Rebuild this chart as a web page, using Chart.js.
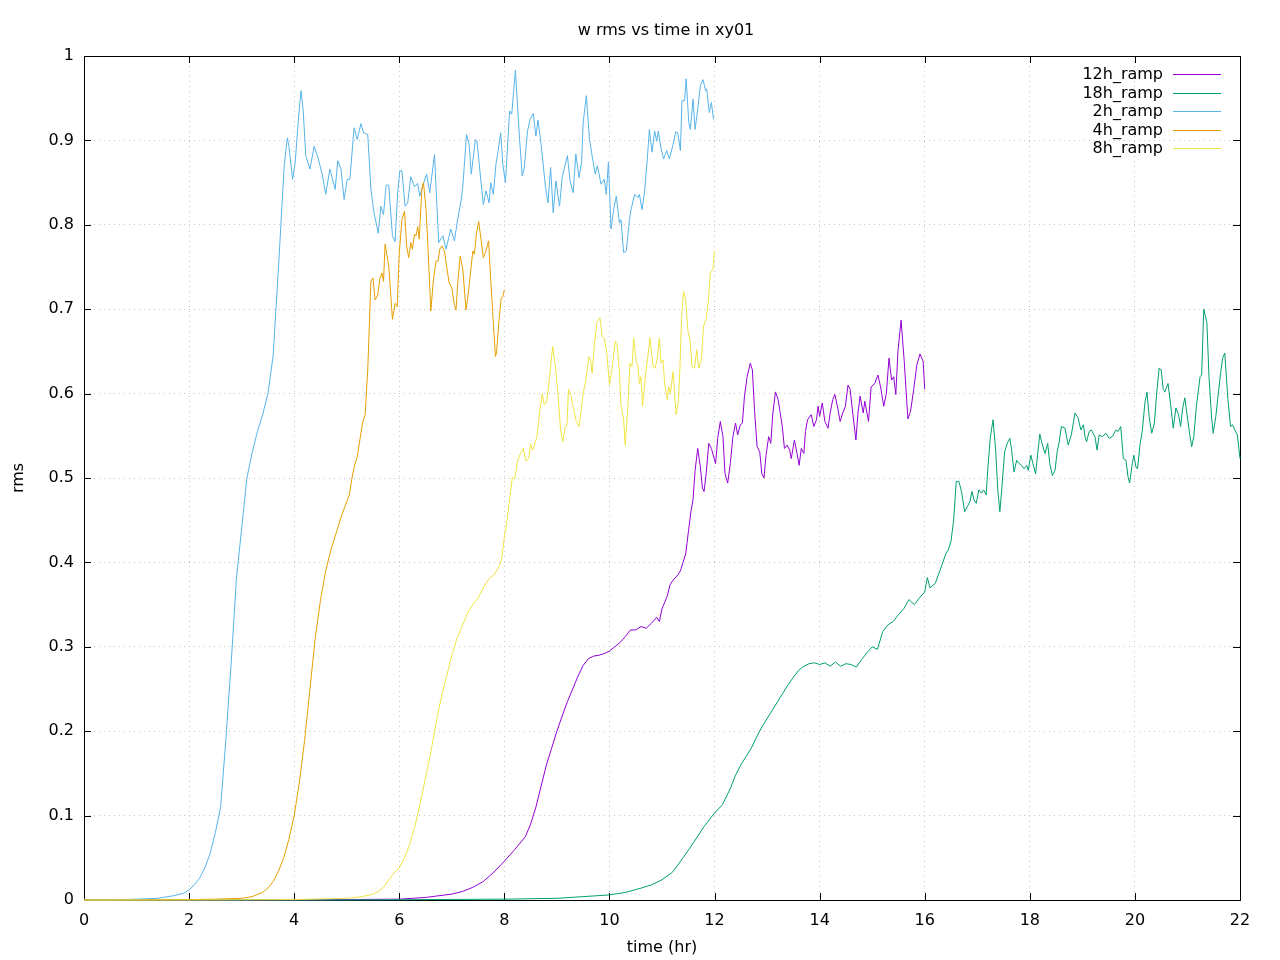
<!DOCTYPE html>
<html>
<head>
<meta charset="utf-8">
<title>w rms vs time in xy01</title>
<script src="https://cdn.jsdelivr.net/npm/chart.js@4/dist/chart.umd.min.js"></script>
<style>
  body { margin: 0; background: #fff; }
  canvas { display: block; }
</style>
</head>
<body>
<canvas id="myChart" width="1280" height="960"></canvas>
<script>
// tick labels
const xTicks = [0, 2, 4, 6, 8, 10, 12, 14, 16, 18, 20, 22];
const xTickLabels = ["0", "2", "4", "6", "8", "10", "12", "14", "16", "18", "20", "22"];
const yTicks = [0, 0.1, 0.2, 0.3, 0.4, 0.5, 0.6, 0.7, 0.8, 0.9, 1];
const yTickLabels = ["0", "0.1", "0.2", "0.3", "0.4", "0.5", "0.6", "0.7", "0.8", "0.9", "1"];

const seriesNames = ["12h_ramp", "18h_ramp", "2h_ramp", "4h_ramp", "8h_ramp"];
const seriesColors = ["#9400d3", "#009e73", "#56b4e9", "#e69f00", "#f0e442"];

// 12h_ramp
const t12h = [0, 4, 6, 6.5, 7.0, 7.2, 7.4, 7.6, 7.8, 8.0, 8.2, 8.4, 8.5, 8.6, 8.7, 8.8, 8.9, 9.0, 9.1, 9.2, 9.3, 9.4, 9.5, 9.6, 9.7, 9.8, 9.9, 10.0, 10.1, 10.2, 10.3, 10.4, 10.5, 10.6, 10.7, 10.8, 10.9, 10.95, 11.0, 11.1, 11.15, 11.2, 11.3, 11.35, 11.4, 11.45, 11.5, 11.55, 11.59, 11.63, 11.68, 11.73, 11.77, 11.8, 11.84, 11.89, 11.94, 12.02, 12.06, 12.11, 12.16, 12.2, 12.25, 12.3, 12.35, 12.4, 12.44, 12.49, 12.53, 12.57, 12.62, 12.68, 12.72, 12.76, 12.81, 12.86, 12.9, 12.94, 12.98, 13.03, 13.07, 13.11, 13.16, 13.21, 13.24, 13.29, 13.33, 13.38, 13.43, 13.46, 13.52, 13.57, 13.61, 13.65, 13.7, 13.73, 13.77, 13.84, 13.89, 13.94, 13.97, 14.0, 14.05, 14.1, 14.16, 14.2, 14.25, 14.29, 14.35, 14.39, 14.44, 14.49, 14.54, 14.58, 14.63, 14.69, 14.73, 14.77, 14.83, 14.86, 14.93, 14.98, 15.05, 15.11, 15.16, 15.22, 15.27, 15.32, 15.37, 15.41, 15.45, 15.49, 15.55, 15.61, 15.66, 15.68, 15.73, 15.79, 15.85, 15.91, 15.97, 16.0];
const v12h = [0, 0, 0.001, 0.003, 0.007, 0.01, 0.015, 0.022, 0.033, 0.046, 0.06, 0.075, 0.09, 0.11, 0.135, 0.16, 0.18, 0.2, 0.218, 0.235, 0.25, 0.265, 0.278, 0.286, 0.289, 0.29, 0.292, 0.295, 0.3, 0.305, 0.312, 0.32, 0.32, 0.324, 0.322, 0.328, 0.335, 0.33, 0.345, 0.36, 0.373, 0.378, 0.385, 0.39, 0.4, 0.41, 0.435, 0.46, 0.474, 0.509, 0.535, 0.513, 0.488, 0.484, 0.505, 0.541, 0.535, 0.517, 0.547, 0.567, 0.549, 0.505, 0.494, 0.517, 0.549, 0.565, 0.551, 0.563, 0.565, 0.597, 0.62, 0.636, 0.628, 0.581, 0.537, 0.531, 0.505, 0.5, 0.527, 0.549, 0.541, 0.577, 0.602, 0.593, 0.581, 0.561, 0.535, 0.539, 0.533, 0.523, 0.545, 0.529, 0.515, 0.535, 0.529, 0.555, 0.569, 0.575, 0.561, 0.569, 0.585, 0.573, 0.589, 0.567, 0.559, 0.577, 0.593, 0.599, 0.581, 0.567, 0.577, 0.585, 0.61, 0.605, 0.577, 0.545, 0.577, 0.597, 0.577, 0.591, 0.567, 0.608, 0.612, 0.622, 0.608, 0.585, 0.6, 0.642, 0.616, 0.62, 0.599, 0.65, 0.687, 0.638, 0.589, 0.57, 0.579, 0.605, 0.634, 0.647, 0.638, 0.605];

// 18h_ramp
const t18h = [0, 5, 8, 9, 9.5, 10.0, 10.3, 10.6, 10.8, 11.0, 11.2, 11.4, 11.6, 11.8, 12.0, 12.15, 12.3, 12.4, 12.5, 12.6, 12.7, 12.8, 12.9, 13.0, 13.1, 13.2, 13.3, 13.4, 13.5, 13.6, 13.7, 13.8, 13.9, 14.0, 14.1, 14.2, 14.3, 14.4, 14.5, 14.6, 14.7, 14.8, 14.9, 15.0, 15.1, 15.2, 15.3, 15.4, 15.5, 15.6, 15.7, 15.8, 15.9, 16.0, 16.05, 16.1, 16.2, 16.3, 16.4, 16.45, 16.5, 16.55, 16.6, 16.65, 16.7, 16.76, 16.81, 16.86, 16.9, 16.94, 16.98, 17.03, 17.08, 17.12, 17.17, 17.2, 17.25, 17.3, 17.35, 17.39, 17.43, 17.47, 17.52, 17.57, 17.62, 17.65, 17.7, 17.75, 17.8, 17.84, 17.89, 17.94, 17.97, 18.02, 18.06, 18.11, 18.15, 18.19, 18.24, 18.29, 18.34, 18.38, 18.43, 18.48, 18.52, 18.56, 18.6, 18.67, 18.73, 18.79, 18.86, 18.92, 18.97, 19.02, 19.05, 19.08, 19.13, 19.17, 19.24, 19.28, 19.32, 19.38, 19.45, 19.51, 19.57, 19.64, 19.68, 19.73, 19.78, 19.83, 19.87, 19.9, 19.95, 19.98, 20.02, 20.05, 20.1, 20.14, 20.19, 20.23, 20.27, 20.32, 20.37, 20.41, 20.46, 20.5, 20.54, 20.57, 20.63, 20.68, 20.73, 20.78, 20.83, 20.87, 20.91, 20.95, 21.0, 21.05, 21.08, 21.12, 21.17, 21.24, 21.27, 21.31, 21.37, 21.41, 21.46, 21.49, 21.54, 21.59, 21.63, 21.67, 21.71, 21.77, 21.82, 21.86, 21.9, 21.95, 22.0];
const v18h = [0, 0, 0.001, 0.002, 0.004, 0.006, 0.009, 0.014, 0.018, 0.024, 0.033, 0.05, 0.068, 0.087, 0.103, 0.113, 0.132, 0.148, 0.16, 0.17, 0.18, 0.193, 0.205, 0.215, 0.225, 0.235, 0.245, 0.255, 0.264, 0.272, 0.277, 0.28, 0.281, 0.279, 0.281, 0.277, 0.282, 0.277, 0.28, 0.279, 0.276, 0.285, 0.293, 0.3, 0.297, 0.318, 0.326, 0.33, 0.338, 0.345, 0.356, 0.35, 0.358, 0.365, 0.382, 0.37, 0.375, 0.392, 0.41, 0.415, 0.425, 0.45, 0.496, 0.496, 0.484, 0.46, 0.466, 0.472, 0.484, 0.474, 0.47, 0.486, 0.482, 0.486, 0.48, 0.511, 0.549, 0.569, 0.533, 0.486, 0.46, 0.49, 0.531, 0.541, 0.547, 0.535, 0.507, 0.521, 0.517, 0.515, 0.511, 0.515, 0.509, 0.527, 0.517, 0.505, 0.529, 0.552, 0.539, 0.529, 0.541, 0.517, 0.503, 0.509, 0.531, 0.543, 0.561, 0.559, 0.539, 0.551, 0.577, 0.571, 0.557, 0.563, 0.549, 0.543, 0.555, 0.557, 0.549, 0.533, 0.551, 0.549, 0.553, 0.547, 0.549, 0.557, 0.555, 0.561, 0.523, 0.521, 0.501, 0.494, 0.517, 0.527, 0.513, 0.511, 0.541, 0.555, 0.589, 0.602, 0.573, 0.553, 0.565, 0.597, 0.63, 0.628, 0.605, 0.602, 0.612, 0.587, 0.559, 0.583, 0.575, 0.561, 0.583, 0.595, 0.571, 0.549, 0.537, 0.549, 0.585, 0.62, 0.622, 0.7, 0.684, 0.62, 0.571, 0.553, 0.573, 0.602, 0.624, 0.642, 0.648, 0.593, 0.561, 0.563, 0.557, 0.551, 0.523];

// 2h_ramp
const t2h = [0, 0.5, 1.0, 1.4, 1.7, 1.9, 2.0, 2.1, 2.2, 2.3, 2.4, 2.5, 2.6, 2.7, 2.8, 2.9, 3.0, 3.1, 3.2, 3.3, 3.4, 3.5, 3.6, 3.71, 3.81, 3.87, 3.9, 3.97, 4.02, 4.08, 4.13, 4.17, 4.22, 4.3, 4.38, 4.46, 4.54, 4.6, 4.68, 4.78, 4.83, 4.89, 4.95, 5.01, 5.06, 5.14, 5.2, 5.27, 5.32, 5.4, 5.46, 5.52, 5.6, 5.65, 5.7, 5.75, 5.8, 5.87, 5.92, 5.97, 6.01, 6.05, 6.11, 6.16, 6.22, 6.29, 6.35, 6.39, 6.44, 6.52, 6.58, 6.67, 6.75, 6.83, 6.89, 6.98, 7.05, 7.11, 7.18, 7.21, 7.28, 7.33, 7.37, 7.45, 7.48, 7.55, 7.6, 7.65, 7.71, 7.74, 7.79, 7.84, 7.88, 7.93, 7.97, 8.02, 8.1, 8.14, 8.21, 8.29, 8.34, 8.38, 8.44, 8.49, 8.55, 8.6, 8.64, 8.7, 8.78, 8.83, 8.88, 8.93, 8.98, 9.05, 9.1, 9.16, 9.2, 9.25, 9.31, 9.36, 9.42, 9.47, 9.5, 9.56, 9.62, 9.68, 9.73, 9.77, 9.84, 9.9, 9.94, 9.98, 10.03, 10.08, 10.13, 10.19, 10.22, 10.27, 10.32, 10.38, 10.41, 10.48, 10.54, 10.57, 10.62, 10.67, 10.72, 10.76, 10.81, 10.86, 10.9, 10.93, 10.98, 11.03, 11.09, 11.14, 11.21, 11.26, 11.3, 11.35, 11.38, 11.43, 11.46, 11.51, 11.54, 11.59, 11.63, 11.68, 11.73, 11.78, 11.83, 11.85, 11.9, 11.94, 11.98];
const v2h = [0, 0, 0.001, 0.002, 0.005, 0.008, 0.012, 0.018, 0.026, 0.038, 0.055, 0.08, 0.11, 0.19, 0.28, 0.38, 0.44, 0.5, 0.53, 0.555, 0.575, 0.6, 0.645, 0.759, 0.87, 0.903, 0.893, 0.854, 0.874, 0.925, 0.959, 0.937, 0.882, 0.866, 0.893, 0.878, 0.858, 0.836, 0.866, 0.842, 0.876, 0.866, 0.83, 0.854, 0.854, 0.915, 0.901, 0.92, 0.909, 0.907, 0.842, 0.814, 0.79, 0.822, 0.812, 0.847, 0.847, 0.787, 0.78, 0.838, 0.864, 0.864, 0.822, 0.826, 0.857, 0.845, 0.849, 0.834, 0.845, 0.86, 0.838, 0.883, 0.779, 0.787, 0.771, 0.795, 0.781, 0.806, 0.83, 0.846, 0.907, 0.895, 0.86, 0.901, 0.899, 0.854, 0.824, 0.84, 0.826, 0.85, 0.836, 0.872, 0.887, 0.909, 0.872, 0.85, 0.935, 0.931, 0.983, 0.901, 0.858, 0.868, 0.911, 0.925, 0.932, 0.905, 0.924, 0.895, 0.846, 0.826, 0.868, 0.814, 0.852, 0.822, 0.856, 0.872, 0.882, 0.852, 0.838, 0.884, 0.856, 0.874, 0.921, 0.953, 0.901, 0.878, 0.86, 0.87, 0.848, 0.854, 0.836, 0.874, 0.795, 0.818, 0.834, 0.802, 0.806, 0.767, 0.769, 0.806, 0.818, 0.836, 0.832, 0.836, 0.818, 0.84, 0.878, 0.913, 0.886, 0.911, 0.899, 0.911, 0.891, 0.878, 0.888, 0.878, 0.895, 0.91, 0.909, 0.888, 0.947, 0.947, 0.973, 0.921, 0.913, 0.949, 0.913, 0.937, 0.965, 0.972, 0.959, 0.961, 0.933, 0.945, 0.925];

// 4h_ramp
const t4h = [0, 1, 2, 2.5, 3.0, 3.2, 3.4, 3.5, 3.6, 3.7, 3.8, 3.9, 4.0, 4.1, 4.2, 4.3, 4.4, 4.5, 4.6, 4.7, 4.8, 4.9, 5.0, 5.05, 5.1, 5.15, 5.2, 5.25, 5.3, 5.35, 5.4, 5.46, 5.5, 5.54, 5.59, 5.63, 5.67, 5.7, 5.73, 5.8, 5.84, 5.87, 5.92, 5.96, 6.0, 6.05, 6.1, 6.14, 6.18, 6.22, 6.25, 6.29, 6.32, 6.35, 6.38, 6.43, 6.46, 6.51, 6.56, 6.6, 6.65, 6.7, 6.74, 6.77, 6.81, 6.86, 6.9, 6.95, 7.0, 7.05, 7.08, 7.11, 7.16, 7.21, 7.27, 7.31, 7.4, 7.43, 7.47, 7.51, 7.56, 7.6, 7.65, 7.7, 7.74, 7.79, 7.83, 7.85, 7.9, 7.94, 7.97, 8.0];
const v4h = [0, 0, 0.0005, 0.001, 0.002, 0.004, 0.009, 0.014, 0.022, 0.034, 0.05, 0.072, 0.1, 0.14, 0.19, 0.25, 0.31, 0.355, 0.39, 0.415, 0.435, 0.455, 0.472, 0.48, 0.5, 0.515, 0.525, 0.545, 0.565, 0.575, 0.628, 0.733, 0.737, 0.711, 0.717, 0.736, 0.743, 0.733, 0.777, 0.751, 0.715, 0.688, 0.707, 0.703, 0.767, 0.806, 0.816, 0.775, 0.761, 0.779, 0.771, 0.789, 0.787, 0.798, 0.783, 0.842, 0.85, 0.818, 0.755, 0.698, 0.735, 0.757, 0.757, 0.771, 0.775, 0.769, 0.751, 0.731, 0.725, 0.705, 0.699, 0.729, 0.763, 0.747, 0.699, 0.717, 0.769, 0.765, 0.79, 0.804, 0.781, 0.761, 0.769, 0.781, 0.735, 0.684, 0.644, 0.648, 0.688, 0.713, 0.715, 0.723];

// 8h_ramp
const t8h = [0, 2, 4, 5, 5.3, 5.5, 5.6, 5.7, 5.8, 5.9, 6.0, 6.1, 6.2, 6.3, 6.4, 6.5, 6.6, 6.7, 6.8, 6.9, 7.0, 7.1, 7.2, 7.3, 7.4, 7.5, 7.6, 7.7, 7.8, 7.9, 7.95, 8.0, 8.05, 8.1, 8.15, 8.2, 8.25, 8.3, 8.36, 8.41, 8.46, 8.5, 8.54, 8.62, 8.67, 8.72, 8.76, 8.8, 8.84, 8.88, 8.92, 8.97, 9.02, 9.07, 9.11, 9.16, 9.19, 9.22, 9.27, 9.3, 9.37, 9.42, 9.46, 9.5, 9.55, 9.61, 9.64, 9.67, 9.71, 9.76, 9.82, 9.86, 9.9, 9.95, 10.0, 10.05, 10.11, 10.15, 10.19, 10.22, 10.27, 10.3, 10.35, 10.39, 10.43, 10.46, 10.51, 10.54, 10.57, 10.6, 10.63, 10.69, 10.73, 10.77, 10.83, 10.87, 10.91, 10.95, 10.98, 11.02, 11.05, 11.1, 11.13, 11.16, 11.21, 11.24, 11.27, 11.31, 11.34, 11.37, 11.41, 11.45, 11.49, 11.54, 11.57, 11.62, 11.66, 11.7, 11.75, 11.79, 11.84, 11.89, 11.92, 11.97, 12.0];
const v8h = [0, 0, 0.0005, 0.002, 0.004, 0.007, 0.01, 0.015, 0.024, 0.032, 0.038, 0.05, 0.066, 0.088, 0.115, 0.145, 0.175, 0.21, 0.24, 0.265, 0.29, 0.31, 0.325, 0.34, 0.35, 0.358, 0.37, 0.38, 0.385, 0.395, 0.405, 0.43, 0.45, 0.475, 0.5, 0.5, 0.52, 0.528, 0.535, 0.52, 0.523, 0.54, 0.533, 0.549, 0.577, 0.6, 0.587, 0.589, 0.608, 0.632, 0.656, 0.632, 0.6, 0.557, 0.543, 0.561, 0.562, 0.605, 0.597, 0.587, 0.567, 0.561, 0.58, 0.6, 0.616, 0.644, 0.64, 0.624, 0.656, 0.684, 0.69, 0.668, 0.666, 0.648, 0.61, 0.63, 0.662, 0.656, 0.624, 0.587, 0.569, 0.539, 0.585, 0.636, 0.632, 0.666, 0.638, 0.634, 0.612, 0.62, 0.585, 0.624, 0.644, 0.666, 0.632, 0.63, 0.642, 0.666, 0.636, 0.64, 0.612, 0.593, 0.608, 0.6, 0.626, 0.6, 0.575, 0.59, 0.628, 0.688, 0.721, 0.711, 0.676, 0.66, 0.632, 0.63, 0.652, 0.63, 0.64, 0.68, 0.688, 0.715, 0.743, 0.747, 0.769];

const seriesTimes = [t12h, t18h, t2h, t4h, t8h];
const seriesValues = [v12h, v18h, v2h, v4h, v8h];

const FONT = "'DejaVu Sans', sans-serif";

// gnuplot style frame with inward ticks on all four sides
const framePlugin = {
  id: "frame",
  beforeDatasetsDraw(chart) {
    const { ctx, chartArea: a, scales } = chart;
    ctx.save();
    ctx.strokeStyle = "#000";
    ctx.lineWidth = 1;
    ctx.beginPath();
    const tl = 7;
    xTicks.forEach((v) => {
      const px = Math.round(scales.x.getPixelForValue(v)) + 0.5;
      ctx.moveTo(px, a.bottom);
      ctx.lineTo(px, a.bottom - tl);
      ctx.moveTo(px, a.top);
      ctx.lineTo(px, a.top + tl);
    });
    yTicks.forEach((v) => {
      const py = Math.round(scales.y.getPixelForValue(v)) + 0.5;
      ctx.moveTo(a.left, py);
      ctx.lineTo(a.left + tl, py);
      ctx.moveTo(a.right, py);
      ctx.lineTo(a.right - tl, py);
    });
    ctx.stroke();
    ctx.strokeRect(a.left + 0.5, a.top + 0.5, a.right - a.left, a.bottom - a.top);
    ctx.restore();
  },
  afterDraw(chart) {
    const { ctx } = chart;
    ctx.save();
    // title
    ctx.fillStyle = "#000";
    ctx.font = "16px " + FONT;
    ctx.textAlign = "center";
    ctx.textBaseline = "middle";
    ctx.fillText("w rms vs time in xy01", 666, 31);
    // key, text on the left and sample on the right like gnuplot
    ctx.textAlign = "right";
    chart.data.datasets.forEach((ds, i) => {
      const y = 74 + i * 18.5;
      ctx.fillStyle = "#000";
      ctx.fillText(ds.label, 1163, y + 1);
      ctx.strokeStyle = ds.borderColor;
      ctx.lineWidth = 1;
      ctx.beginPath();
      ctx.moveTo(1173, Math.round(y) + 0.5);
      ctx.lineTo(1221, Math.round(y) + 0.5);
      ctx.stroke();
    });
    ctx.restore();
  },
};

const datasets = seriesNames.map((name, i) => ({
  label: name,
  data: seriesTimes[i].map((t, j) => ({ x: t, y: seriesValues[i][j] })),
  borderColor: seriesColors[i],
  backgroundColor: seriesColors[i],
  borderWidth: 1,
  pointRadius: 0,
  tension: 0,
  fill: false,
  clip: false,
  order: seriesNames.length - i,
}));

const ctx = document.getElementById("myChart").getContext("2d");
const myChart = new Chart(ctx, {
  type: "line",
  data: { datasets },
  options: {
    responsive: false,
    animation: false,
    layout: { padding: { top: 56, right: 40, left: 0, bottom: 0 } },
    plugins: {
      legend: { display: false },
      title: { display: false },
      tooltip: { enabled: false },
    },
    scales: {
      x: {
        type: "linear",
        min: 0,
        max: 22,
        afterBuildTicks: (s) => { s.ticks = xTicks.map((v) => ({ value: v })); },
        afterFit: (s) => { s.height = 60; },
        ticks: {
          color: "#000",
          font: { family: FONT, size: 16 },
          padding: 11,
          maxRotation: 0,
          autoSkip: false,
          callback: (v, i) => xTickLabels[i],
        },
        grid: { color: "#c4c4c4", lineWidth: 1, drawTicks: false },
        border: { display: false, dash: [1, 4] },
        title: {
          display: true,
          text: "time (hr)",
          color: "#000",
          font: { family: FONT, size: 16 },
          padding: { top: 0, bottom: 3 },
        },
      },
      y: {
        type: "linear",
        min: 0,
        max: 1,
        afterBuildTicks: (s) => { s.ticks = yTicks.map((v) => ({ value: v })); },
        afterFit: (s) => { s.width = 84; },
        ticks: {
          color: "#000",
          font: { family: FONT, size: 16 },
          padding: 10,
          autoSkip: false,
          callback: (v, i) => yTickLabels[i],
        },
        grid: { color: "#c4c4c4", lineWidth: 1, drawTicks: false },
        border: { display: false, dash: [1, 4] },
        title: {
          display: true,
          text: "rms",
          color: "#000",
          font: { family: FONT, size: 16 },
          padding: { top: 9, bottom: 0 },
        },
      },
    },
  },
  plugins: [framePlugin],
});
</script>
</body>
</html>
